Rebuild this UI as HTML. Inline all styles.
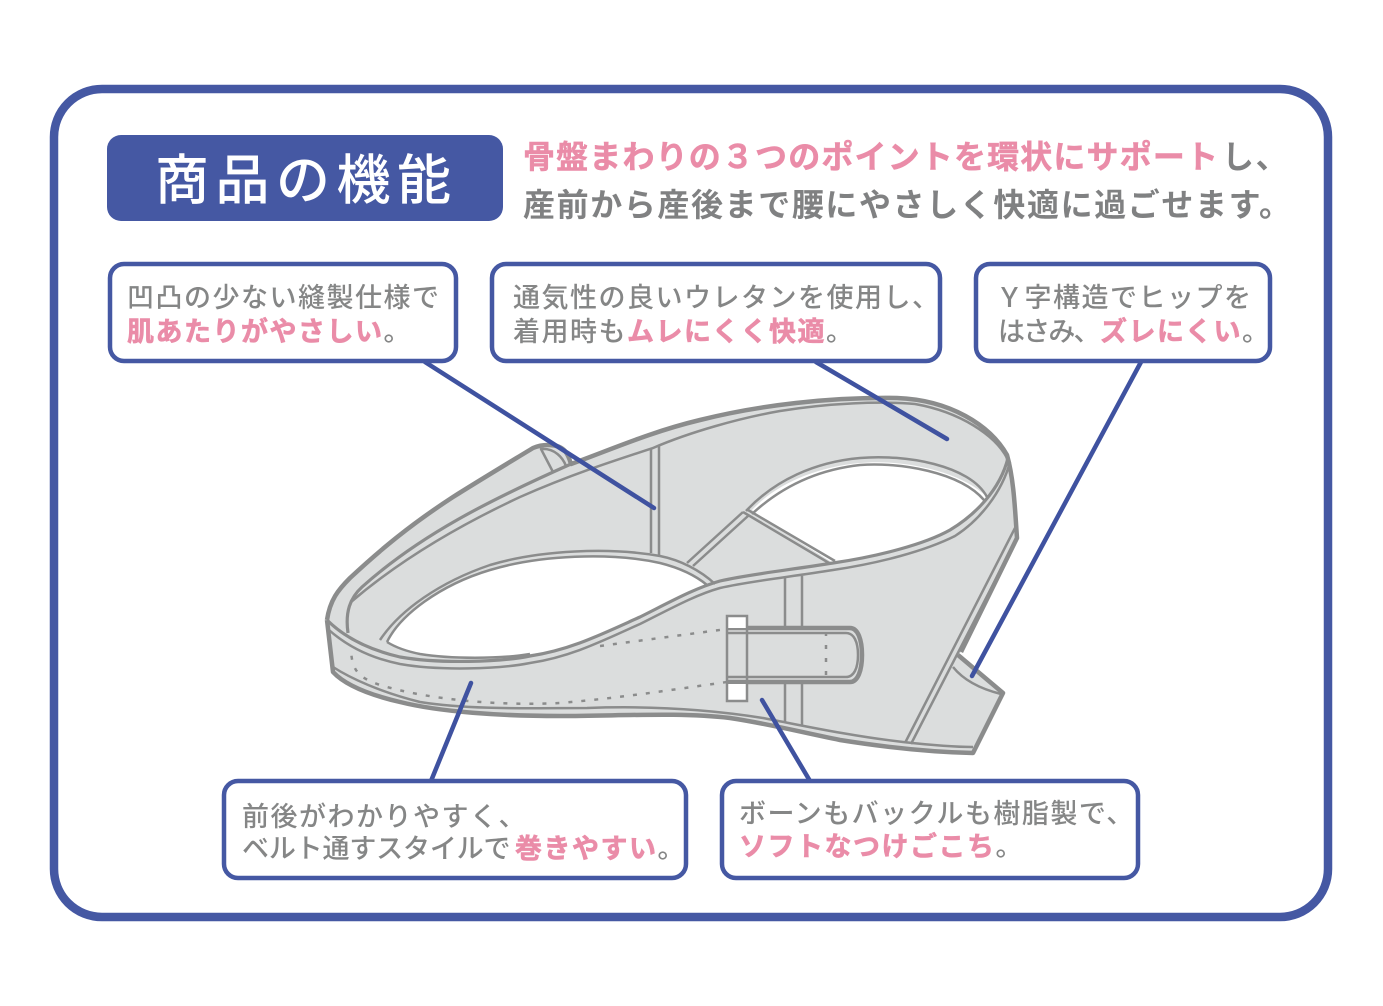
<!DOCTYPE html>
<html lang="ja"><head><meta charset="utf-8"><style>
html,body{margin:0;padding:0;background:#fff}
svg{display:block}
text{font-family:"Liberation Sans","Noto Sans CJK JP",sans-serif}
.g{fill:#858686;stroke:none;font-size:27px;font-weight:500;letter-spacing:1.5px}
.p{fill:#ea8ca8;stroke:#ea8ca8;stroke-width:.6px;font-size:27px;font-weight:700;letter-spacing:1.5px}
.hp{fill:#ea8ca8;stroke:#ea8ca8;stroke-width:.5px;font-size:32px;font-weight:700}
.hg{fill:#808182;font-size:32px;font-weight:700;letter-spacing:1.6px}
.box{fill:#fff;stroke:#4558a3;stroke-width:4.5}
.lead{stroke:#3f52a0;stroke-width:4.5;fill:none;stroke-linecap:round}
.o{fill:none;stroke:#8b8c8c;stroke-width:4.5;stroke-linejoin:round}
.t{fill:none;stroke:#8b8c8c;stroke-width:3.2;stroke-linejoin:round}
.m{fill:none;stroke:#8b8c8c;stroke-width:2.5;stroke-linejoin:round}
.d{fill:none;stroke:#8b8c8c;stroke-width:2.5;stroke-dasharray:4 9}
</style></head><body>
<svg width="1383" height="1006" viewBox="0 0 1383 1006" xmlns="http://www.w3.org/2000/svg">
<rect width="1383" height="1006" fill="#fff"/>
<rect x="54" y="89" width="1274" height="828" rx="48" fill="#fff" stroke="#4558a3" stroke-width="8.5"/>
<rect x="107" y="135" width="396" height="86" rx="14" fill="#4558a3"/>
<text x="155" y="199" fill="#fff" font-size="54" font-weight="500" letter-spacing="6.5">商品の機能</text>
<text x="523" y="168" class="hp" textLength="695" lengthAdjust="spacing">骨盤まわりの３つのポイントを環状にサポート</text>
<text x="1222" y="168" class="hg">し、</text>
<text x="523" y="216" class="hg">産前から産後まで腰にやさしく快適に過ごせます。</text>

<!-- garment -->
<path d="M327 620 C330 600 338 590 350 578 C380 550 410 525 453 497 C480 480 510 462 533 448 C542 444 558 443 565 451 C569 456 570 461 571 464 C610 450 650 432 700 420 C760 405 830 397 897 398 C950 400 990 425 1007 455 C1014 480 1015 510 1017 538 L961 652 L958 655 L1003 693 L973 753 C930 752 890 748 840 740 C800 732 770 724 730 718 C680 712 620 716 560 716 C500 716 440 712 400 702 C370 695 345 685 333 672 Z" fill="#dbdddd"/>
<path d="M541 449 C555 448 563 458 566 466 L553 472 Z" fill="#dbdddd" class="m"/>
<path d="M327 620 C330 600 338 590 350 578 C380 550 410 525 453 497 C480 480 510 462 533 448 C542 444 558 443 565 451 C569 456 570 461 571 464 C610 450 650 432 700 420 C760 405 830 397 897 398 C950 400 990 425 1007 455 C1014 480 1015 510 1017 538 L961 652 M958 655 L1003 693 L973 753 C930 752 890 748 840 740 C800 732 770 724 730 718 C680 712 620 716 560 716 C500 716 440 712 400 702 C370 695 345 685 333 672 L327 620" class="o"/>
<!-- holes -->
<path d="M387 642 C400 615 440 585 490 570 C540 555 610 552 660 563 C680 568 695 575 707 585 C690 592 665 605 640 617 C600 635 570 650 530 654 C500 659 450 659 420 654 C405 651 395 647 387 642 Z" fill="#fff"/>
<path d="M387 642 C400 615 440 585 490 570 C540 555 610 552 660 563 C680 568 695 575 707 585" class="m"/>
<path d="M387 642 C395 647 405 651 420 654 C450 659 500 659 530 654" class="m"/>
<path d="M380 640 C400 610 440 582 490 565 C540 550 610 547 660 556 C680 560 700 570 715 584" class="m"/>
<path d="M752 510 C775 485 815 467 860 463 C900 459 960 470 987 497 C975 512 960 522 950 530 C925 544 880 556 833 563 C805 545 775 528 752 510 Z" fill="#fff"/>
<path d="M746 511 C775 480 815 462 860 458 C905 454 970 465 987 497" class="m"/>
<path d="M752 514 C780 488 815 470 860 465 C900 462 960 472 984 500" class="m"/>
<!-- top seam -->
<path d="M351 602 C400 560 460 525 520 497 C570 475 610 462 653 448 C690 432 740 418 780 411 C830 403 880 401 915 404 C960 412 995 435 1007 458" class="m"/>
<path d="M348 633 C345 612 350 598 362 587 C420 535 490 500 571 464" class="t"/>
<!-- front band -->
<path d="M327 620 C345 638 370 650 400 657 C440 664 500 662 530 656 C570 650 600 635 640 617 C670 602 695 588 720 581 C750 574 790 570 833 563 C880 556 925 544 950 530 C975 515 1000 490 1008 458" class="t"/>
<path d="M329 630 C347 646 370 658 400 664 C440 671 500 669 530 663 C570 657 600 642 640 624 C670 609 695 595 720 588 C750 581 790 577 833 570 C880 563 925 551 955 536 C980 520 1002 492 1010 462" class="m"/>
<path d="M333 667 C350 678 380 692 420 702 C470 710 530 708 587 708 C640 706 700 708 763 718 C800 725 850 736 903 742 C930 745 955 747 973 747" class="m"/>
<!-- straps -->
<path d="M651 448 L651 553 M659 446 L659 556 M687 563 L743 512 M693 566 L748 516 M743 512 L829 563 M748 510 L835 561" class="m"/>
<path d="M785 577 L785 628 M802 576 L802 628 M785 683 L785 723 M802 683 L802 726" class="m"/>
<path d="M1015 528 L905 743 M1017 538 L911 744 M953 667 C965 682 985 690 1001 694" class="m"/>
<!-- dotted -->
<path d="M600 646 L727 629 M727 682 C670 690 620 698 560 703 C500 706 430 700 380 685 C360 678 352 672 351 650" class="d"/>
<!-- buckle -->
<path d="M727 628 H850 C858 628 862 640 862 655 C862 670 858 682 850 682 H727" fill="#dbdddd" stroke="#8b8c8c" stroke-width="4.5"/>
<path d="M727 633 H846 C854 633 858 642 858 655 C858 668 854 677 846 677 H727" class="m"/>
<path d="M826 632 V680" class="d"/>
<rect x="727" y="616" width="20" height="12" fill="#fff"/><rect x="727" y="684" width="20" height="17" fill="#fff"/>
<rect x="727" y="616" width="20" height="85" fill="none" stroke="#8b8c8c" stroke-width="2.5"/>

<!-- leaders -->
<path class="lead" d="M425 362 L654 508 M816 362 L947 439 M1141 362 L972 676 M431 781 L471 683 M810 781 L762 700"/>

<!-- boxes -->
<rect class="box" x="110" y="264" width="346" height="97" rx="14"/>
<rect class="box" x="492" y="264" width="448" height="97" rx="14"/>
<rect class="box" x="976" y="264" width="294" height="97" rx="14"/>
<rect class="box" x="224" y="781" width="462" height="97" rx="14"/>
<rect class="box" x="722" y="781" width="416" height="97" rx="14"/>

<text x="127" y="307" class="g">凹凸の少ない縫製仕様で</text>
<text x="127" y="341" class="p">肌あたりがやさしい<tspan class="g">。</tspan></text>
<text x="513" y="307" class="g">通気性の良いウレタンを使用し、</text>
<text x="513" y="341" class="g">着用時も<tspan class="p">ムレにくく快適</tspan>。</text>
<text x="996" y="307" class="g">Ｙ字構造でヒップを</text>
<text x="998" y="341" class="g" textLength="104" lengthAdjust="spacing">はさみ、</text>
<text x="1100" y="341" class="p">ズレにくい<tspan class="g">。</tspan></text>
<text x="242" y="826" class="g">前後がわかりやすく、</text>
<text x="242" y="858" class="g" textLength="270" lengthAdjust="spacing">ベルト通すスタイルで</text>
<text x="515" y="858" class="p">巻きやすい<tspan class="g">。</tspan></text>
<text x="739" y="823" class="g">ボーンもバックルも樹脂製で、</text>
<text x="739" y="856" class="p">ソフトなつけごこち<tspan class="g">。</tspan></text>
</svg>
</body></html>
